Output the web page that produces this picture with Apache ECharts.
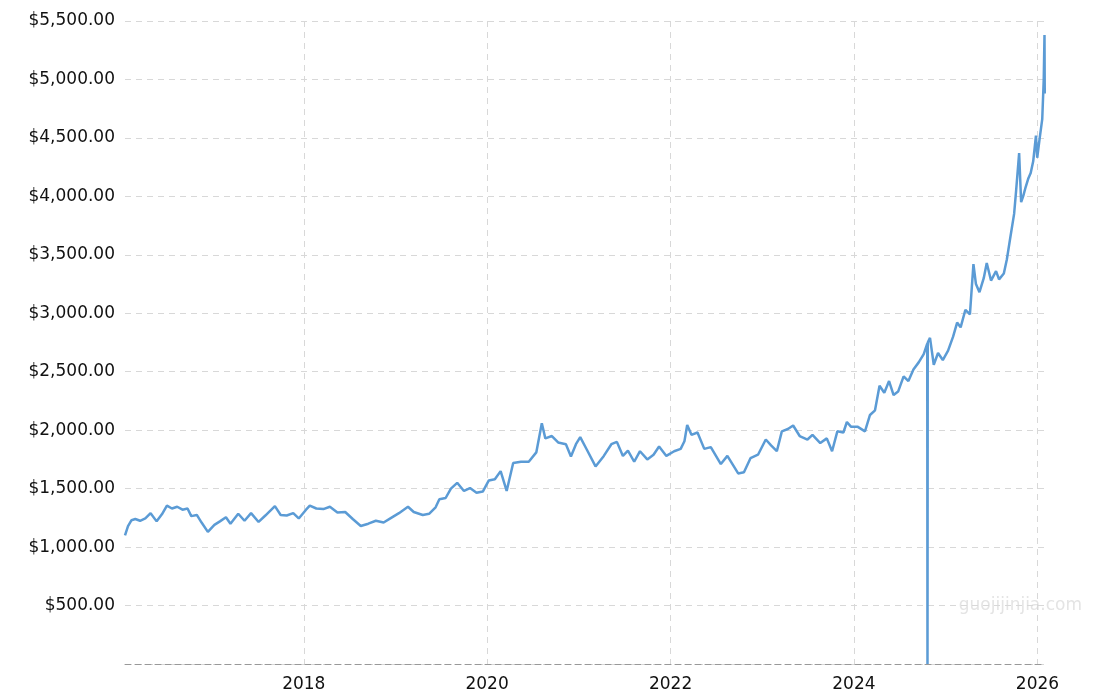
<!DOCTYPE html>
<html>
<head>
<meta charset="utf-8">
<script src="https://cdn.jsdelivr.net/npm/echarts@6/dist/echarts.min.js"></script>
<style>
  html, body { margin: 0; padding: 0; background: #fff; }
  #chart { width: 1110px; height: 700px; }
</style>
</head>
<body>
<div id="chart"></div>
<script>
// dates and gold price (USD/oz)
const dates = [
  "2016-01-20", "2016-02-01", "2016-02-15", "2016-03-01", "2016-03-20", "2016-04-10", "2016-05-01", "2016-05-25",
  "2016-06-15", "2016-07-05", "2016-07-25", "2016-08-15", "2016-09-05", "2016-09-25", "2016-10-10", "2016-11-01",
  "2016-11-20", "2016-12-15", "2017-01-10", "2017-02-01", "2017-02-25", "2017-03-15", "2017-04-15", "2017-05-10",
  "2017-06-05", "2017-07-05", "2017-08-01", "2017-09-08", "2017-10-01", "2017-10-25", "2017-11-20", "2017-12-12",
  "2018-01-10", "2018-01-25", "2018-02-20", "2018-03-20", "2018-04-15", "2018-05-15", "2018-06-15", "2018-07-15",
  "2018-08-16", "2018-09-15", "2018-10-15", "2018-11-15", "2018-12-15", "2019-01-15", "2019-02-20", "2019-03-15",
  "2019-04-20", "2019-05-15", "2019-06-10", "2019-06-25", "2019-07-20", "2019-08-10", "2019-09-04", "2019-10-01",
  "2019-10-25", "2019-11-20", "2019-12-15", "2020-01-08", "2020-02-01", "2020-02-24", "2020-03-19", "2020-04-14",
  "2020-05-15", "2020-06-15", "2020-07-15", "2020-08-06", "2020-08-20", "2020-09-15", "2020-10-10", "2020-11-10",
  "2020-11-30", "2020-12-20", "2021-01-06", "2021-02-01", "2021-03-08", "2021-04-10", "2021-05-10", "2021-06-01",
  "2021-06-25", "2021-07-15", "2021-08-09", "2021-09-01", "2021-09-30", "2021-10-25", "2021-11-16", "2021-12-15",
  "2022-01-15", "2022-02-10", "2022-02-25", "2022-03-08", "2022-03-25", "2022-04-18", "2022-05-15", "2022-06-10",
  "2022-07-20", "2022-08-15", "2022-09-27", "2022-10-20", "2022-11-15", "2022-12-15", "2023-01-15", "2023-02-05",
  "2023-02-28", "2023-03-20", "2023-04-13", "2023-05-04", "2023-05-30", "2023-06-30", "2023-07-20", "2023-08-20",
  "2023-09-15", "2023-10-06", "2023-10-27", "2023-11-20", "2023-12-04", "2023-12-20", "2024-01-15", "2024-02-14",
  "2024-03-05", "2024-03-25", "2024-04-12", "2024-05-01", "2024-05-20", "2024-06-07", "2024-06-25", "2024-07-17",
  "2024-08-05", "2024-08-25", "2024-09-15", "2024-10-05", "2024-10-19", "2024-10-20", "2024-10-21", "2024-10-30",
  "2024-11-14", "2024-12-01", "2024-12-20", "2025-01-10", "2025-01-30", "2025-02-15", "2025-03-01", "2025-03-20",
  "2025-04-07", "2025-04-21", "2025-05-01", "2025-05-15", "2025-06-01", "2025-06-13", "2025-06-30", "2025-07-20",
  "2025-08-01", "2025-08-20", "2025-09-01", "2025-09-15", "2025-09-30", "2025-10-08", "2025-10-20", "2025-10-28",
  "2025-11-05", "2025-11-15", "2025-11-25", "2025-12-05", "2025-12-15", "2025-12-26", "2025-12-31", "2026-01-10",
  "2026-01-20", "2026-01-26", "2026-01-29", "2026-01-30"
];
const prices = [
  1100, 1180, 1230, 1240, 1225, 1245, 1290, 1220,
  1280, 1355, 1330, 1345, 1320, 1330, 1265, 1275,
  1210, 1130, 1190, 1220, 1255, 1200, 1285, 1225,
  1290, 1215, 1270, 1350, 1275, 1270, 1290, 1245,
  1320, 1355, 1330, 1325, 1345, 1295, 1300, 1240,
  1180, 1200, 1225, 1210, 1250, 1290, 1345, 1300,
  1275, 1285, 1340, 1410, 1420, 1500, 1550, 1480,
  1505, 1465, 1475, 1570, 1580, 1650, 1480, 1720,
  1730, 1730, 1810, 2060, 1930, 1950, 1895, 1880,
  1775, 1880, 1940, 1835, 1690, 1780, 1880, 1900,
  1780, 1825, 1730, 1820, 1750, 1790, 1860, 1780,
  1820, 1840, 1905, 2045, 1960, 1980, 1840, 1855,
  1710, 1780, 1630, 1640, 1760, 1790, 1920, 1870,
  1820, 1990, 2010, 2040, 1950, 1920, 1960, 1890,
  1930, 1820, 1990, 1980, 2070, 2030, 2030, 1990,
  2130, 2170, 2380, 2320, 2420, 2300, 2330, 2460,
  2420, 2520, 2580, 2650, 2740, 0, 2750, 2790,
  2560, 2660, 2600, 2680, 2800, 2920, 2880, 3030,
  2990, 3420, 3250, 3180, 3300, 3430, 3280, 3360,
  3290, 3340, 3460, 3650, 3850, 4050, 4370, 3950,
  4000, 4080, 4150, 4200, 4300, 4520, 4330, 4500,
  4660, 5000, 5380, 4880
];
const yTicks = [500, 1000, 1500, 2000, 2500, 3000, 3500, 4000, 4500, 5000, 5500];
const xTickYears = ["2018", "2020", "2022", "2024", "2026"];

const ts = d => new Date(d + "T00:00:00Z").getTime();
const xTicks = xTickYears.map(y => ts(y + "-01-01"));

const chart = echarts.init(document.getElementById("chart"));

const gridLine = { show: true, lineStyle: { color: "#d8d8d8", type: [6, 5], width: 1 } };

chart.setOption({
  animation: false,
  graphic: [{
    type: "text", right: 28, top: 597,
    style: { text: "guojijinjia.com", fill: "#e4e4e4", font: "17px 'DejaVu Sans'" }
  }],
  grid: { left: 125, right: 65, top: 21, bottom: 36 },
  xAxis: {
    type: "value",
    min: ts("2016-01-20"),
    max: ts("2026-01-31"),
    axisLine: { show: true, lineStyle: { color: "#999", type: [6, 4] } },
    axisTick: { show: false, customValues: xTicks },
    splitLine: gridLine,
    axisLabel: {
      color: "#111", fontSize: 17, fontFamily: "DejaVu Sans", margin: 12,
      customValues: xTicks,
      formatter: v => String(new Date(v).getUTCFullYear())
    }
  },
  yAxis: {
    type: "value",
    min: 0,
    max: 5500,
    interval: 500,
    axisLine: { show: false },
    axisTick: { show: false },
    splitLine: gridLine,
    axisLabel: {
      color: "#111", fontSize: 17, fontFamily: "DejaVu Sans", margin: 10,
      formatter: v => yTicks.includes(v) ? "$" + v.toLocaleString("en-US") + ".00" : ""
    }
  },
  series: [{
    type: "line",
    data: dates.map((d, i) => [ts(d), prices[i]]),
    showSymbol: false,
    lineStyle: { color: "#5b9bd5", width: 2.5 },
    itemStyle: { color: "#5b9bd5" }
  }]
});
</script>
</body>
</html>
